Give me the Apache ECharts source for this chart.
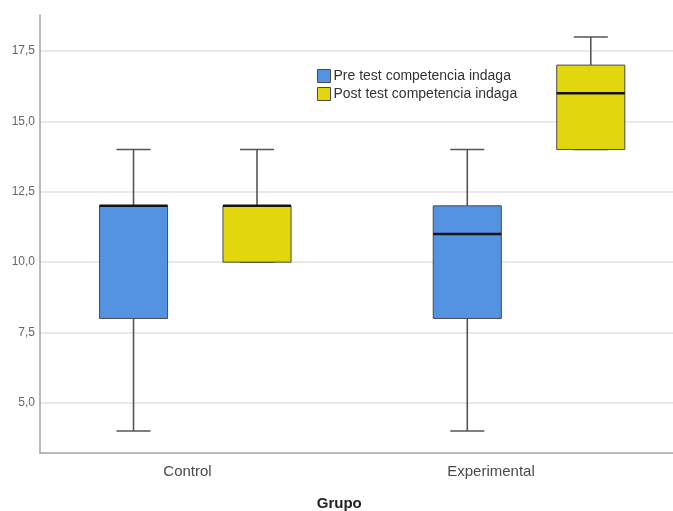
<!DOCTYPE html>
<html>
<head>
<meta charset="utf-8">
<script src="https://cdn.jsdelivr.net/npm/echarts@6/dist/echarts.min.js"></script>
<style>
html,body{margin:0;padding:0;background:#fff;}
#chart{width:673px;height:511px;}
</style>
</head>
<body>
<div id="chart"></div>
<script>
// ---- data ----
const categories = ['Control', 'Experimental'];
const seriesNames = ['Pre test competencia indaga', 'Post test competencia indaga'];
const preMin    = [4, 4];
const preQ1     = [8, 8];
const preMedian = [12, 11];
const preQ3     = [12, 12];
const preMax    = [14, 14];
const postMin    = [10, 14];
const postQ1     = [10, 14];
const postMedian = [12, 16];
const postQ3     = [12, 17];
const postMax    = [14, 18];
const yTicks = [5, 7.5, 10, 12.5, 15, 17.5];
const yMin = 3.22, yMax = 18.78;

function buildData(mn, q1, md, q3, mx) {
  return categories.map((c, i) => [i, mn[i], q1[i], md[i], q3[i], mx[i]]);
}
const preData = buildData(preMin, preQ1, preMedian, preQ3, preMax);
const postData = buildData(postMin, postQ1, postMedian, postQ3, postMax);

const FONT = '"Liberation Sans", Arial, sans-serif';
const BOX_FRAC = 0.204;

function makeRender(offsetFrac) {
  return function (params, api) {
    const cat = api.value(0);
    const band = api.size([1, 0])[0];
    const cx = api.coord([cat, api.value(3)])[0] + offsetFrac * band;
    const y = k => api.coord([cat, api.value(k)])[1];
    const yMn = y(1), yQ1 = y(2), yMd = y(3), yQ3 = y(4), yMx = y(5);
    const bw = BOX_FRAC * band, hw = bw / 2, cw = bw / 4;
    const color = api.visual('color');
    const wStyle = { stroke: '#555', lineWidth: 1.6 };
    return {
      type: 'group',
      children: [
        { type: 'line', shape: { x1: cx, y1: yMx, x2: cx, y2: yQ3 }, style: wStyle },
        { type: 'line', shape: { x1: cx, y1: yQ1, x2: cx, y2: yMn }, style: wStyle },
        { type: 'line', shape: { x1: cx - cw, y1: yMx, x2: cx + cw, y2: yMx }, style: wStyle },
        { type: 'line', shape: { x1: cx - cw, y1: yMn, x2: cx + cw, y2: yMn }, style: wStyle },
        { type: 'rect', shape: { x: cx - hw, y: yQ3, width: bw, height: yQ1 - yQ3 },
          style: { fill: color, stroke: '#4a4a4a', lineWidth: 1 } },
        { type: 'line', shape: { x1: cx - hw, y1: yMd, x2: cx + hw, y2: yMd },
          style: { stroke: '#141414', lineWidth: 2.5 } }
      ]
    };
  };
}

const chart = echarts.init(document.getElementById('chart'));
chart.setOption({
  animation: false,
  backgroundColor: '#fff',
  legend: {
    orient: 'vertical',
    left: 312, top: 64,
    itemWidth: 13, itemHeight: 13, itemGap: 4,
    icon: 'rect',
    data: seriesNames,
    itemStyle: { borderColor: '#4a4a4a', borderWidth: 1 },
    textStyle: { fontFamily: FONT, fontSize: 14, color: '#333', lineHeight: 13, padding: [0, 0, 0, -2] }
  },
  grid: [
    { left: 40, right: 0, top: 15, bottom: 58, outerBoundsMode: 'none' },
    { left: 35.75, width: 607, top: 15, bottom: 58, outerBoundsMode: 'none' },
    { left: 28.4, width: 667.5, top: 15, bottom: 58, outerBoundsMode: 'none' }
  ],
  xAxis: [
    { gridIndex: 0, type: 'category', data: categories,
      axisLine: { show: true, lineStyle: { color: '#a3a3a3', width: 1.5 } },
      axisTick: { show: false }, axisLabel: { show: false }, splitLine: { show: false } },
    { gridIndex: 1, type: 'category', data: categories,
      axisLine: { show: false }, axisTick: { show: false }, splitLine: { show: false },
      axisLabel: { fontFamily: FONT, fontSize: 15, color: '#4a4a4a', margin: 11 },
      name: 'Grupo', nameLocation: 'middle', nameGap: 43,
      nameTextStyle: { fontFamily: FONT, fontSize: 15, fontWeight: 'bold', color: '#222' } },
    { gridIndex: 2, type: 'category', data: categories, show: false }
  ],
  yAxis: [
    { gridIndex: 0, type: 'value', min: yMin, max: yMax,
      axisLine: { show: true, lineStyle: { color: '#a3a3a3', width: 1.5 } },
      axisTick: { show: false, customValues: yTicks },
      axisLabel: { customValues: yTicks, fontFamily: FONT, fontSize: 12, color: '#666', margin: 5,
        formatter: v => Number(v).toFixed(1).replace('.', ',') },
      splitLine: { show: true, lineStyle: { color: '#e2e2e2', width: 1.5 } } },
    { gridIndex: 1, type: 'value', min: yMin, max: yMax, show: false, splitLine: { show: false } },
    { gridIndex: 2, type: 'value', min: yMin, max: yMax, show: false, splitLine: { show: false } }
  ],
  series: [
    { name: seriesNames[0], type: 'custom', xAxisIndex: 2, yAxisIndex: 2,
      itemStyle: { color: '#5393e2' },
      encode: { x: 0, y: [1, 2, 3, 4, 5] },
      renderItem: makeRender(-0.185), data: preData },
    { name: seriesNames[1], type: 'custom', xAxisIndex: 2, yAxisIndex: 2,
      itemStyle: { color: '#e2d60f' },
      encode: { x: 0, y: [1, 2, 3, 4, 5] },
      renderItem: makeRender(0.185), data: postData }
  ]
});
</script>
</body>
</html>
